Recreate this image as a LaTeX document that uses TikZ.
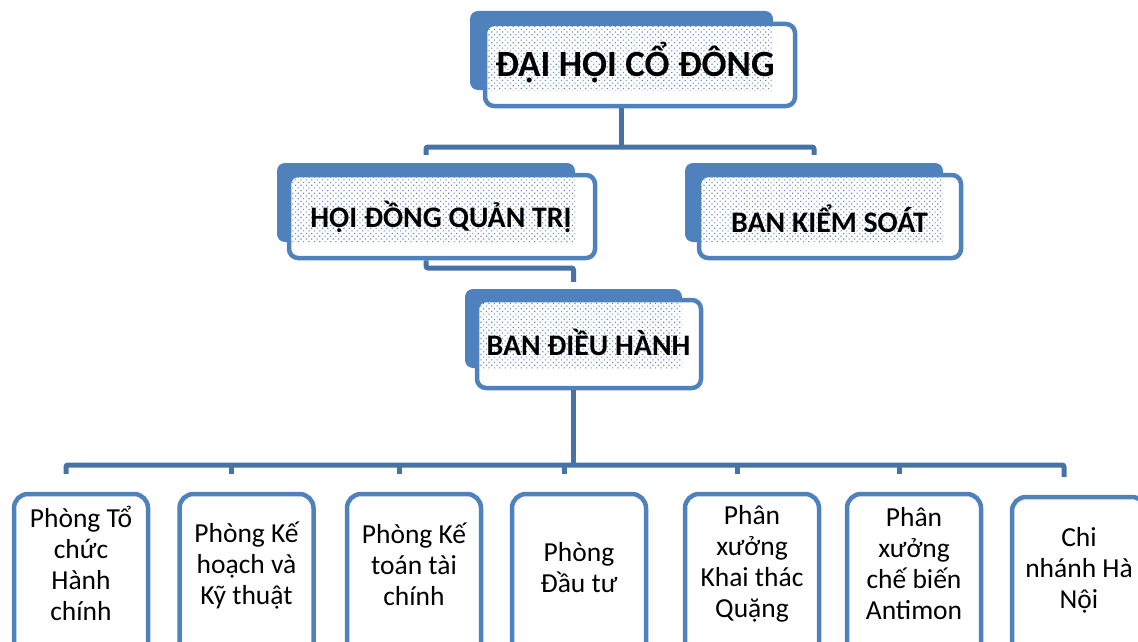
\documentclass[tikz,border=0pt]{standalone}
\usepackage{fontspec}
\setmainfont{Carlito}
\usetikzlibrary{calc,patterns.meta}
\definecolor{boxblue}{HTML}{4F81BD}
\definecolor{connblue}{HTML}{4672A8}
\definecolor{dotblue}{HTML}{5F8BC4}
\tikzset{
  backbox/.style={fill=boxblue, draw=none, rounded corners=8pt, inner sep=0pt},
  frontbox/.style={fill=white, draw=boxblue, line width=4.5pt, rounded corners=9pt, inner sep=0pt},
  dotfill/.style={pattern={Dots[distance=3.8pt, angle=45, radius=0.8pt]}, pattern color=dotblue},
  headtext/.style={font=\bfseries\fontsize{29.8}{34}\selectfont, text=black},
  conn/.style={draw=connblue, line width=5pt, rounded corners=2pt},
  unitbox/.style={fill=white, draw=boxblue, line width=4.5pt, rounded corners=14pt, minimum width=134pt, minimum height=186pt, inner sep=0pt},
  unittext/.style={font=\fontsize{27.5}{31}\selectfont, align=center, text=black},
}
\begin{document}
\begin{tikzpicture}[x=1pt, y=-1pt]
\useasboundingbox (0,0) rectangle (1138,642);
\clip (0,0) rectangle (1138,642);

% --- ĐẠI HỘI CỔ ĐÔNG
\node[backbox, minimum width=303pt, minimum height=79pt] (dhB) at (621.5,50.5) {};
\node[frontbox, minimum width=310pt, minimum height=82pt] (dh) at (640,65) {};
\fill[dotfill] ($(dh.north west)+(2.5,2.5)$) rectangle ($(dhB.south east)+(0,0)$);
\node[headtext, font=\bfseries\fontsize{37}{40}\selectfont] (dht) at (635,63) {ĐẠI HỘI CỔ ĐÔNG};

% --- HỘI ĐỒNG QUẢN TRỊ
\node[backbox, minimum width=298pt, minimum height=79pt] (hdB) at (426,202.5) {};
\node[frontbox, minimum width=306pt, minimum height=83pt] (hd) at (442,216.5) {};
\fill[dotfill] ($(hd.north west)+(2.5,2.5)$) rectangle ($(hdB.south east)+(0,0)$);
\node[headtext] (hdt) at (441,217) {HỘI ĐỒNG QUẢN TRỊ};

% --- BAN KIỂM SOÁT
\node[backbox, minimum width=258pt, minimum height=79pt] (bkB) at (814,202.5) {};
\node[frontbox, minimum width=262pt, minimum height=83pt] (bk) at (830,216.5) {};
\fill[dotfill] ($(bk.north west)+(2.5,2.5)$) rectangle ($(bkB.south east)+(0,0)$);
\node[headtext] (bkt) at (829.5,219) {BAN KIỂM SOÁT};

% --- BAN ĐIỀU HÀNH
\node[backbox, minimum width=217pt, minimum height=79pt] (bdB) at (573.5,328.5) {};
\node[frontbox, minimum width=224pt, minimum height=88pt] (bd) at (589,344) {};
\fill[dotfill] ($(bd.north west)+(2.5,2.5)$) rectangle ($(bdB.south east)+(0,0)$);
\node[headtext] (bdt) at (588.5,342) {BAN ĐIỀU HÀNH};

% --- connectors, upper levels
\coordinate (j1) at (621.5,147);
\coordinate (hdD) at ($(hdB.north)+(0,-8)$);
\coordinate (bkD) at ($(bkB.north)+(0,-8)$);
\draw[conn] (dh.south -| dhB.center) -- (j1);
\draw[conn] (hdD) -- (hdD |- j1) -- (bkD |- j1) -- (bkD);
\coordinate (j2) at (426,268);
\coordinate (bdD) at ($(bdB.north)+(0,-7)$);
\draw[conn] (hd.south -| hdB.center) -- (j2) -- (bdD |- j2) -- (bdD);

% --- unit boxes
\foreach \n/\cx/\cy/\dy/\txt in {
  u1/81/587/72/{Phòng Tổ\\chức\\Hành\\chính},
  u2/246.5/587/74/{Phòng Kế\\hoạch và\\Kỹ thuật},
  u3/414/587/73/{Phòng Kế\\toán tài\\chính},
  u4/579/587/76/{Phòng\\Đầu tư},
  u5/752/587/72/{Phân\\xưởng\\Khai thác\\Quặng},
  u6/914/587/72/{Phân\\xưởng\\chế biến\\Antimon},
  u7/1079/590/76/{Chi\\nhánh Hà\\Nội}}{
  \node[unitbox] (\n) at (\cx,\cy) {};
  \node[unittext] (\n t) at ($(\n.north)+(0,\dy)$) {\txt};
}

% --- connectors to units
\coordinate (bus) at (573.5,465);
\draw[conn] (bd.south -| bdB.center) -- (bus);
\foreach \n in {u1,u2,u3,u4,u5,u6,u7}{
  \coordinate (\n d) at ($(\n.north)+(-15,-18)$);
}
\draw[conn] (u1d) -- (u1d |- bus) -- (u7d |- bus) -- (u7d);
\foreach \n in {u2,u3,u4,u5,u6}{
  \draw[conn] (\n d |- bus) -- (\n d);
}
\end{tikzpicture}
\end{document}
